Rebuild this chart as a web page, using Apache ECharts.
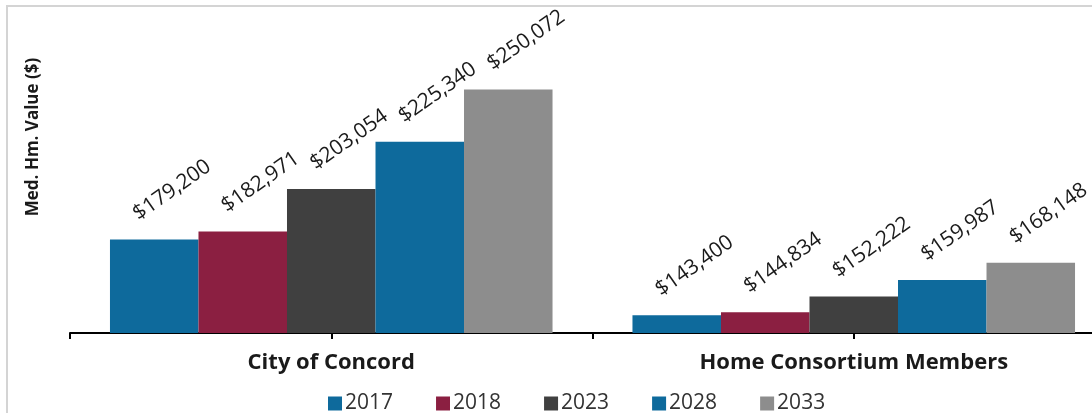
<!DOCTYPE html>
<html>
<head>
<meta charset="utf-8">
<script src="https://cdn.jsdelivr.net/npm/echarts@6/dist/echarts.min.js"></script>
<style>
  html, body { margin: 0; padding: 0; background: #ffffff; }
  #chart { width: 1092px; height: 413px; }
</style>
</head>
<body>
<div id="chart"></div>
<script>
// Median home values by area and year
const categories = ['City of Concord', 'Home Consortium Members'];
const years = ['2017', '2018', '2023', '2028', '2033'];
const values2017 = [179200, 143400];
const values2018 = [182971, 144834];
const values2023 = [203054, 152222];
const values2028 = [225340, 159987];
const values2033 = [250072, 168148];
const seriesValues = [values2017, values2018, values2023, values2028, values2033];
const colors = ['#0e6a9c', '#8b1f41', '#404040', '#0e6a9c', '#8d8d8d'];

const fontFamily = '"Open Sans", "Noto Sans", sans-serif';
const money = v => '$' + v.toLocaleString('en-US');

const chart = echarts.init(document.getElementById('chart'), null, { renderer: 'canvas' });

const series = years.map((y, i) => ({
  name: y,
  type: 'bar',
  xAxisIndex: 0,
  data: seriesValues[i],
  barGap: '0%',
  barCategoryGap: '15.3%',
  itemStyle: { color: colors[i] },
  label: {
    show: true,
    position: 'top',
    distance: 5,
    rotate: 35,
    align: 'center',
    verticalAlign: 'middle',
    offset: [40, -26],
    formatter: p => money(p.value),
    fontFamily: fontFamily,
    fontSize: 21,
    color: '#1a1a1a'
  }
}));

chart.setOption({
  animation: false,
  color: colors,
  // plot area runs past the right edge of the canvas
  grid: { left: 70, width: 1045, top: 5, height: 328, containLabel: false, outerBoundsMode: 'none' },
  xAxis: [
    {
      type: 'category',
      data: categories,
      axisLine: { show: true, lineStyle: { color: '#000000', width: 2 } },
      axisTick: { show: false },
      axisLabel: {
        show: true,
        margin: 19,
        fontFamily: fontFamily,
        fontWeight: 'bold',
        fontSize: 22,
        color: '#1a1a1a'
      }
    },
    {
      // half-category tick marks along the baseline
      type: 'value',
      position: 'bottom',
      min: 0,
      max: 4,
      interval: 1,
      axisLine: { show: false },
      axisTick: { show: true, length: 6, lineStyle: { color: '#000000', width: 2 } },
      axisLabel: { show: false },
      splitLine: { show: false }
    }
  ],
  yAxis: {
    type: 'value',
    min: 135000,
    max: 290000,
    show: false
  },
  legend: {
    data: years,
    left: 323,
    top: 388,
    itemWidth: 14,
    itemHeight: 14,
    itemGap: 43,
    icon: 'rect',
    textStyle: { fontFamily: fontFamily, fontSize: 21, color: '#333333', padding: [0, 0, 0, -2] }
  },
  graphic: [
    {
      type: 'rect',
      shape: { x: 7, y: 6, width: 1200, height: 500 },
      style: { fill: 'none', stroke: '#d4d4d4', lineWidth: 2 },
      silent: true
    },
    {
      type: 'text',
      x: 33,
      y: 137,
      rotation: Math.PI / 2,
      style: {
        text: 'Med. Hm. Value ($)',
        fontFamily: fontFamily,
        fontWeight: 'bold',
        fontSize: 17,
        fill: '#1a1a1a',
        textAlign: 'center',
        textVerticalAlign: 'middle'
      }
    }
  ],
  series: series
});
</script>
</body>
</html>
